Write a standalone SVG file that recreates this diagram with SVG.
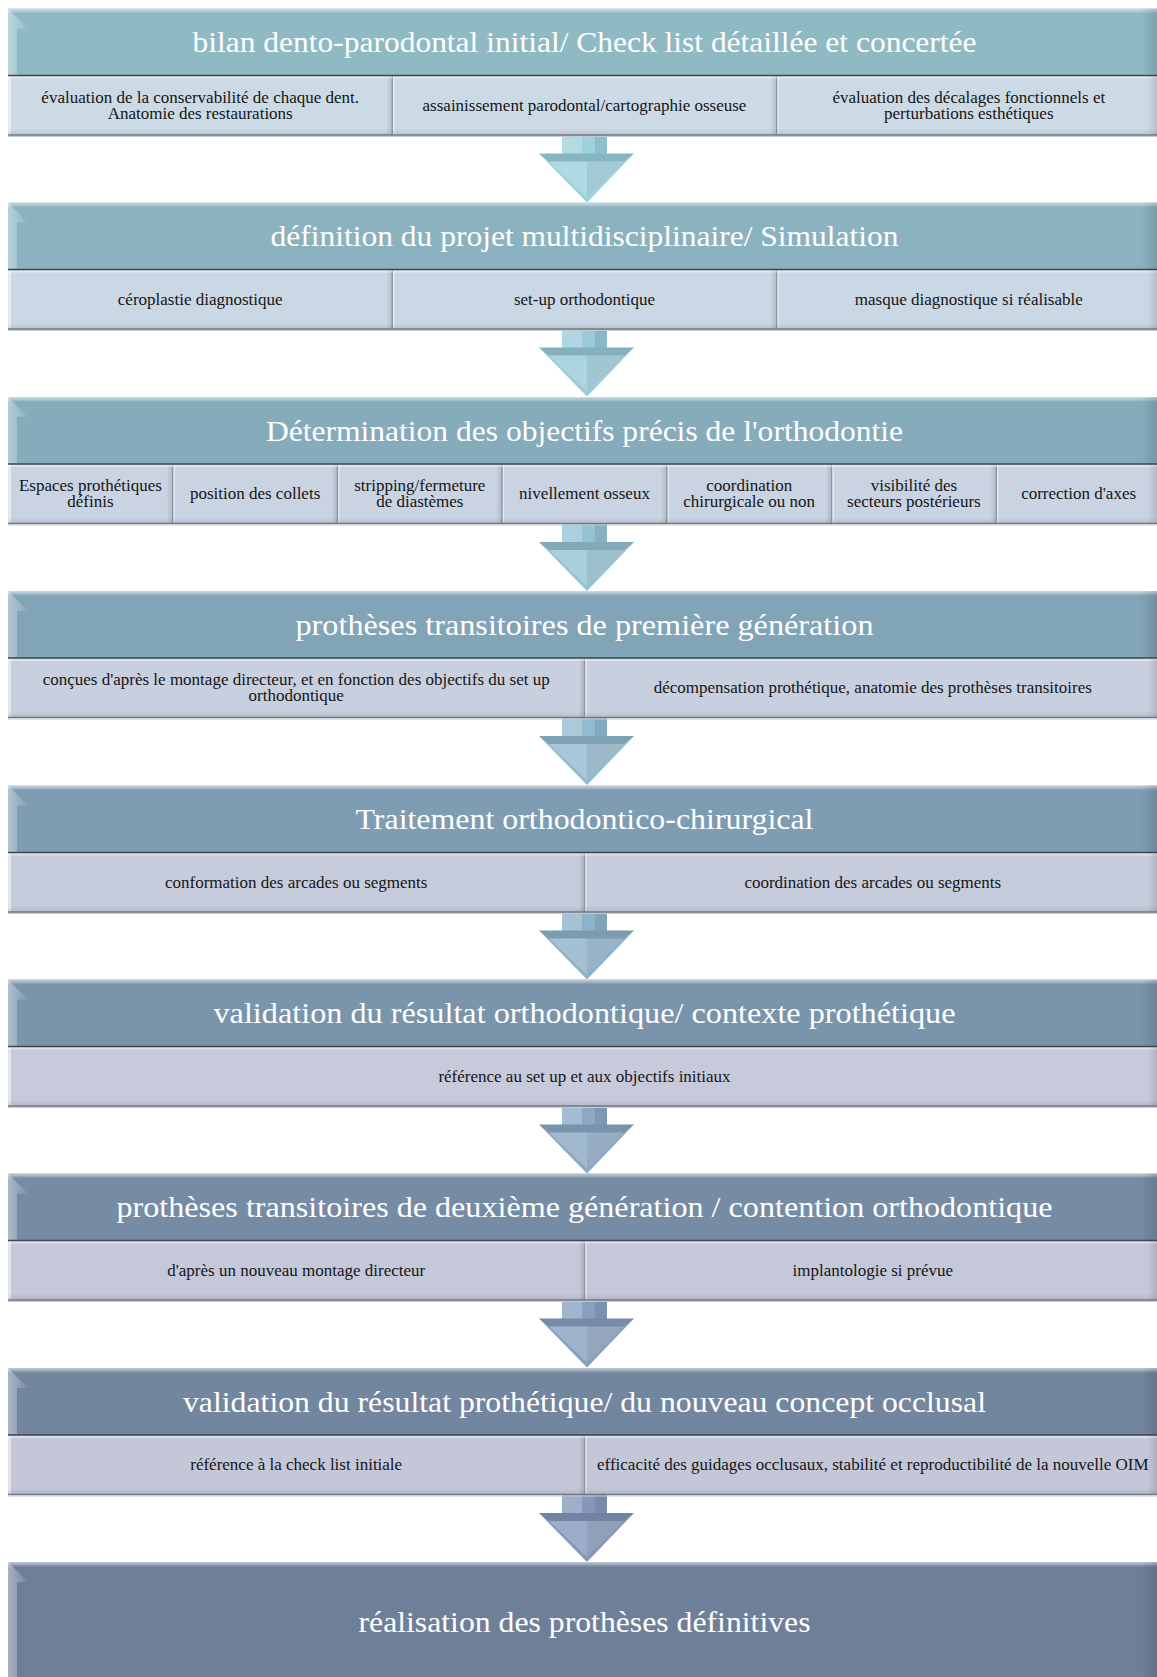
<svg xmlns="http://www.w3.org/2000/svg" width="1157" height="1677" viewBox="0 0 1157 1677">
<defs>
<style>
.ht{font-family:"Liberation Serif","DejaVu Serif",serif;font-size:30px;fill:#ffffff;text-anchor:middle}
.st{font-family:"Liberation Serif","DejaVu Serif",serif;font-size:17px;fill:#151515;text-anchor:middle}
.topline{stroke:#3d444b;stroke-width:1.6}
.botline{stroke:#6f7985;stroke-width:1.3}
.botline2{stroke:#c4cad1;stroke-width:1}
.dv{stroke:#8d97a4;stroke-width:1.3}
.dvh{stroke:#ffffff;stroke-opacity:.7;stroke-width:1}
</style>
<linearGradient id="gTop" x1="0" y1="0" x2="0" y2="1"><stop offset="0" stop-color="#fff" stop-opacity=".6"/><stop offset="1" stop-color="#fff" stop-opacity="0"/></linearGradient>
<linearGradient id="gLeft" x1="0" y1="0" x2="1" y2="0"><stop offset="0" stop-color="#fff" stop-opacity=".4"/><stop offset="1" stop-color="#fff" stop-opacity=".05"/></linearGradient>
<linearGradient id="gRight" x1="0" y1="0" x2="1" y2="0"><stop offset="0" stop-color="#000" stop-opacity="0"/><stop offset="1" stop-color="#000" stop-opacity=".16"/></linearGradient>
<linearGradient id="gBot" x1="0" y1="0" x2="0" y2="1"><stop offset="0" stop-color="#000" stop-opacity="0"/><stop offset="1" stop-color="#000" stop-opacity=".1"/></linearGradient>
<linearGradient id="gCellR" x1="0" y1="0" x2="1" y2="0"><stop offset="0" stop-color="#000" stop-opacity="0"/><stop offset="1" stop-color="#000" stop-opacity=".13"/></linearGradient>
<g id="hShade">
<rect x="8" y="0" width="1153" height="5" fill="url(#gTop)"/>
<polygon points="8,0 28,20 17,20 17,67 8,67" fill="url(#gLeft)"/>
<rect x="1141" y="0" width="20" height="67" fill="url(#gRight)"/>
</g>
<g id="sShade">
<rect x="8" y="0" width="1153" height="3" fill="#fff" opacity=".4"/>
<rect x="8" y="0" width="3" height="60" fill="#fff" opacity=".5"/>
<rect x="1147" y="0" width="14" height="60" fill="url(#gRight)"/>
<rect x="8" y="53" width="1153" height="7" fill="url(#gBot)"/>
<line x1="8" y1="0" x2="1161" y2="0" class="topline"/>
<line x1="8" y1="59.5" x2="1161" y2="59.5" class="botline"/>
<line x1="8" y1="61" x2="1161" y2="61" class="botline2"/>
</g>
<g id="div">
<rect x="-6" y="0" width="6" height="60" fill="url(#gCellR)"/>
<line x1="0" y1="0" x2="0" y2="60" class="dv"/>
<line x1="1.5" y1="1" x2="1.5" y2="59" class="dvh"/>
</g>
<path id="arrow" d="M562,0 H607 V18 H634 L587,67 L539,18 H562 Z"/>
<g id="aShade">
<rect x="562" y="0" width="20" height="18" fill="#fff" opacity=".22"/>
<rect x="595" y="0" width="12" height="18" fill="#000" opacity=".09"/>
<polygon points="539,18 634,18 624,26 549,26" fill="#000" opacity=".13"/>
<polygon points="549,26 624,26 587,62" fill="#fff" opacity=".2"/>
<polygon points="587,26 624,26 587,62" fill="#000" opacity=".07"/>
</g>
</defs>
<rect width="1157" height="1677" fill="#ffffff"/>

<g id="connectors">
<use href="#arrow" y="135.5" fill="#9DD1DD"/><use href="#aShade" y="135.5"/>
<use href="#arrow" y="329.5" fill="#99CBD9"/><use href="#aShade" y="329.5"/>
<use href="#arrow" y="524" fill="#95C3D4"/><use href="#aShade" y="524"/>
<use href="#arrow" y="718" fill="#91BBCF"/><use href="#aShade" y="718"/>
<use href="#arrow" y="912.5" fill="#8EB2CA"/><use href="#aShade" y="912.5"/>
<use href="#arrow" y="1106.5" fill="#8BA9C5"/><use href="#aShade" y="1106.5"/>
<use href="#arrow" y="1300.5" fill="#88A0C0"/><use href="#aShade" y="1300.5"/>
<use href="#arrow" y="1495" fill="#8598BB"/><use href="#aShade" y="1495"/>
</g>

<!-- Block 1 -->
<g id="node1-header">
<rect x="8" y="8.5" width="1153" height="67" fill="#8FBAC4"/>
<use href="#hShade" y="8.5"/>
<text class="ht" x="584.5" y="52" textLength="784" lengthAdjust="spacingAndGlyphs">bilan dento-parodontal initial/ Check list détaillée et concertée</text>
</g>
<g id="node1-details">
<rect x="8" y="75.5" width="1153" height="60" fill="#CCDAE6"/>
<use href="#div" x="392.3" y="75.5"/>
<use href="#div" x="776.7" y="75.5"/>
<use href="#sShade" y="75.5"/>
<text class="st" x="200.2" y="102.5">évaluation de la conservabilité de chaque dent.</text>
<text class="st" x="200.2" y="118.5">Anatomie des restaurations</text>
<text class="st" x="584.5" y="110.5">assainissement parodontal/cartographie osseuse</text>
<text class="st" x="968.8" y="102.5">évaluation des décalages fonctionnels et</text>
<text class="st" x="968.8" y="118.5">perturbations esthétiques</text>
</g>

<!-- Block 2 -->
<g id="node2-header">
<rect x="8" y="202.5" width="1153" height="67" fill="#8AB3BF"/>
<use href="#hShade" y="202.5"/>
<text class="ht" x="584.5" y="246" textLength="628" lengthAdjust="spacingAndGlyphs">définition du projet multidisciplinaire/ Simulation</text>
</g>
<g id="node2-details">
<rect x="8" y="269.5" width="1153" height="60" fill="#CAD7E4"/>
<use href="#div" x="392.3" y="269.5"/>
<use href="#div" x="776.7" y="269.5"/>
<use href="#sShade" y="269.5"/>
<text class="st" x="200.2" y="304.5">céroplastie diagnostique</text>
<text class="st" x="584.5" y="304.5">set-up orthodontique</text>
<text class="st" x="968.8" y="304.5">masque diagnostique si réalisable</text>
</g>

<!-- Block 3 -->
<g id="node3-header">
<rect x="8" y="397" width="1153" height="67" fill="#86ACBB"/>
<use href="#hShade" y="397"/>
<text class="ht" x="584.5" y="440.5" textLength="637" lengthAdjust="spacingAndGlyphs">Détermination des objectifs précis de l'orthodontie</text>
</g>
<g id="node3-details">
<rect x="8" y="464" width="1153" height="60" fill="#C9D3E1"/>
<use href="#div" x="172.7" y="464"/>
<use href="#div" x="337.4" y="464"/>
<use href="#div" x="502.1" y="464"/>
<use href="#div" x="666.9" y="464"/>
<use href="#div" x="831.6" y="464"/>
<use href="#div" x="996.3" y="464"/>
<use href="#sShade" y="464"/>
<text class="st" x="90.4" y="491">Espaces prothétiques</text>
<text class="st" x="90.4" y="507">définis</text>
<text class="st" x="255.1" y="499">position des collets</text>
<text class="st" x="419.8" y="491">stripping/fermeture</text>
<text class="st" x="419.8" y="507">de diastèmes</text>
<text class="st" x="584.5" y="499">nivellement osseux</text>
<text class="st" x="749.2" y="491">coordination</text>
<text class="st" x="749.2" y="507">chirurgicale ou non</text>
<text class="st" x="913.9" y="491">visibilité des</text>
<text class="st" x="913.9" y="507">secteurs postérieurs</text>
<text class="st" x="1078.6" y="499">correction d'axes</text>
</g>

<!-- Block 4 -->
<g id="node4-header">
<rect x="8" y="591" width="1153" height="67" fill="#82A4B7"/>
<use href="#hShade" y="591"/>
<text class="ht" x="584.5" y="634.5" textLength="578" lengthAdjust="spacingAndGlyphs">prothèses transitoires de première génération</text>
</g>
<g id="node4-details">
<rect x="8" y="658" width="1153" height="60" fill="#C8CFDE"/>
<use href="#div" x="584.5" y="658"/>
<use href="#sShade" y="658"/>
<text class="st" x="296.2" y="685">conçues d'après le montage directeur, et en fonction des objectifs du set up</text>
<text class="st" x="296.2" y="701">orthodontique</text>
<text class="st" x="872.8" y="693">décompensation prothétique, anatomie des prothèses transitoires</text>
</g>

<!-- Block 5 -->
<g id="node5-header">
<rect x="8" y="785.5" width="1153" height="67" fill="#7E9CB2"/>
<use href="#hShade" y="785.5"/>
<text class="ht" x="584.5" y="829" textLength="458" lengthAdjust="spacingAndGlyphs">Traitement orthodontico-chirurgical</text>
</g>
<g id="node5-details">
<rect x="8" y="852.5" width="1153" height="60" fill="#C7CCDC"/>
<use href="#div" x="584.5" y="852.5"/>
<use href="#sShade" y="852.5"/>
<text class="st" x="296.2" y="887.5">conformation des arcades ou segments</text>
<text class="st" x="872.8" y="887.5">coordination des arcades ou segments</text>
</g>

<!-- Block 6 -->
<g id="node6-header">
<rect x="8" y="979.5" width="1153" height="67" fill="#7A94AC"/>
<use href="#hShade" y="979.5"/>
<text class="ht" x="584.5" y="1023" textLength="742" lengthAdjust="spacingAndGlyphs">validation du résultat orthodontique/ contexte prothétique</text>
</g>
<g id="node6-details">
<rect x="8" y="1046.5" width="1153" height="60" fill="#C6CADA"/>
<use href="#sShade" y="1046.5"/>
<text class="st" x="584.5" y="1081.5">référence au set up et aux objectifs initiaux</text>
</g>

<!-- Block 7 -->
<g id="node7-header">
<rect x="8" y="1173.5" width="1153" height="67" fill="#768CA5"/>
<use href="#hShade" y="1173.5"/>
<text class="ht" x="584.5" y="1217" textLength="936" lengthAdjust="spacingAndGlyphs">prothèses transitoires de deuxième génération / contention orthodontique</text>
</g>
<g id="node7-details">
<rect x="8" y="1240.5" width="1153" height="60" fill="#C5C8D9"/>
<use href="#div" x="584.5" y="1240.5"/>
<use href="#sShade" y="1240.5"/>
<text class="st" x="296.2" y="1275.5">d'après un nouveau montage directeur</text>
<text class="st" x="872.8" y="1275.5">implantologie si prévue</text>
</g>

<!-- Block 8 -->
<g id="node8-header">
<rect x="8" y="1368" width="1153" height="67" fill="#73869F"/>
<use href="#hShade" y="1368"/>
<text class="ht" x="584.5" y="1411.5" textLength="803" lengthAdjust="spacingAndGlyphs">validation du résultat prothétique/ du nouveau concept occlusal</text>
</g>
<g id="node8-details">
<rect x="8" y="1435" width="1153" height="60" fill="#C4C7D8"/>
<use href="#div" x="584.5" y="1435"/>
<use href="#sShade" y="1435"/>
<text class="st" x="296.2" y="1470">référence à la check list initiale</text>
<text class="st" x="872.8" y="1470">efficacité des guidages occlusaux, stabilité et reproductibilité de la nouvelle OIM</text>
</g>

<!-- Block 9 -->
<g id="node9">
<rect x="8" y="1562" width="1153" height="130" fill="#6F7F99"/>
<rect x="8" y="1562" width="1153" height="5" fill="url(#gTop)"/>
<polygon points="8,1562 28,1582 17,1582 17,1692 8,1692" fill="url(#gLeft)"/>
<rect x="1141" y="1562" width="20" height="130" fill="url(#gRight)"/>
<text class="ht" x="584.5" y="1632" textLength="452" lengthAdjust="spacingAndGlyphs">réalisation des prothèses définitives</text>
</g>
</svg>
